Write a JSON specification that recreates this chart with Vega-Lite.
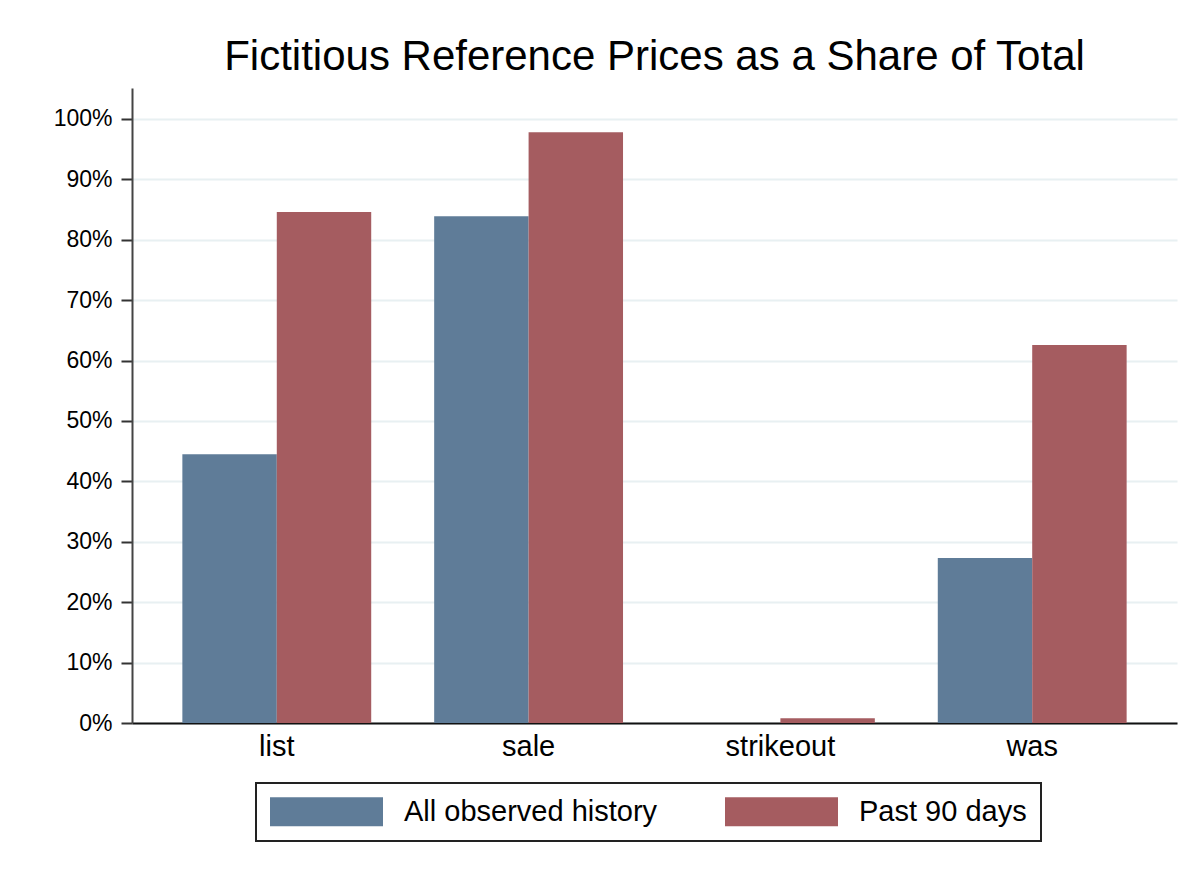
{
  "$schema": "https://vega.github.io/schema/vega-lite/v6.json",
  "autosize": "none",
  "width": 1045,
  "height": 635,
  "padding": {"left": 132, "top": 88, "right": 25, "bottom": 155},
  "background": "white",
  "title": {
    "text": "Fictitious Reference Prices as a Share of Total",
    "font": "Liberation Sans",
    "fontSize": 42,
    "fontWeight": "normal",
    "color": "#000000",
    "anchor": "middle",
    "offset": 9
  },
  "data": {
    "values": [
      {"type": "list", "series": "All observed history", "share": 0.445},
      {"type": "list", "series": "Past 90 days", "share": 0.846},
      {"type": "sale", "series": "All observed history", "share": 0.839},
      {"type": "sale", "series": "Past 90 days", "share": 0.978},
      {"type": "strikeout", "series": "All observed history", "share": 0.0},
      {"type": "strikeout", "series": "Past 90 days", "share": 0.008},
      {"type": "was", "series": "All observed history", "share": 0.273},
      {"type": "was", "series": "Past 90 days", "share": 0.626}
    ]
  },
  "mark": {"type": "bar"},
  "encoding": {
    "x": {
      "field": "type",
      "type": "nominal",
      "sort": ["list", "sale", "strikeout", "was"],
      "scale": {"paddingInner": 0.25, "paddingOuter": 0.2},
      "axis": {
        "title": null,
        "labelAngle": 0,
        "labelFont": "Liberation Sans",
        "labelFontSize": 29,
        "labelColor": "#000000",
        "labelPadding": 9,
        "ticks": false,
        "domainColor": "#111111",
        "domainWidth": 2,
        "grid": false
      }
    },
    "xOffset": {
      "field": "series",
      "type": "nominal",
      "scale": {"paddingInner": 0, "paddingOuter": 0}
    },
    "y": {
      "field": "share",
      "type": "quantitative",
      "scale": {"domain": [0, 1.0513], "nice": false},
      "axis": {
        "title": null,
        "values": [0, 0.1, 0.2, 0.3, 0.4, 0.5, 0.6, 0.7, 0.8, 0.9, 1.0],
        "format": ".0%",
        "labelFont": "Liberation Sans",
        "labelFontSize": 23,
        "labelColor": "#000000",
        "labelPadding": 9,
        "tickSize": 11,
        "tickColor": "#333333",
        "tickWidth": 2,
        "domainColor": "#444444",
        "domainWidth": 2,
        "grid": true,
        "gridColor": "#e8f0f2",
        "gridWidth": 2
      }
    },
    "color": {
      "field": "series",
      "type": "nominal",
      "scale": {
        "domain": ["All observed history", "Past 90 days"],
        "range": ["#5f7c98", "#a55c60"]
      },
      "legend": {
        "title": null,
        "orient": "none",
        "legendX": 124,
        "legendY": 695,
        "direction": "horizontal",
        "symbolType": "M-1,-1H6.793V1H-1Z",
        "symbolSize": 841,
        "symbolStrokeWidth": 0,
        "symbolOpacity": 1,
        "labelFont": "Liberation Sans",
        "labelFontSize": 29,
        "labelLimit": 500,
        "labelColor": "#000000",
        "labelOffset": 105,
        "columnPadding": 67,
        "padding": 14,
        "strokeColor": "#222222",
        "fillColor": "white",
        "encode": {
          "legend": {"update": {"strokeWidth": {"value": 2}}}
        }
      }
    }
  },
  "config": {
    "view": {"stroke": null}
  }
}
